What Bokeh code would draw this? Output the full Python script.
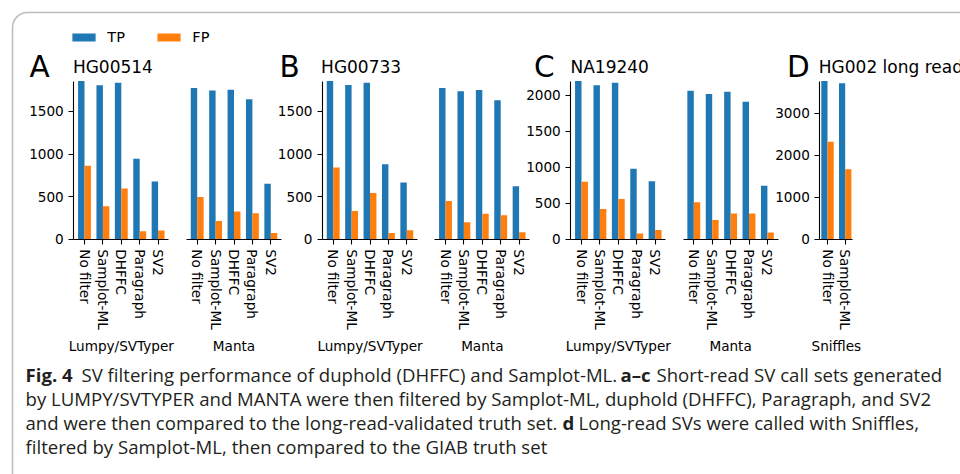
from bokeh.plotting import figure
from bokeh.models import (Range1d, LinearAxis, FixedTicker, ColumnDataSource,
                          BoxAnnotation, Legend, LegendItem)
from bokeh.core.properties import value
from bokeh.transform import dodge
from bokeh.embed import file_html
from bokeh.resources import INLINE

# ---------------- data ----------------
filters = ["No filter", "Samplot-ML", "DHFFC", "Paragraph", "SV2"]
sniffles_filters = ["No filter", "Samplot-ML"]
callers = ["Lumpy/SVTyper", "Manta", "Sniffles"]
series_names = ["TP", "FP"]
panel_letters = ["A", "B", "C", "D"]
panel_titles = ["HG00514", "HG00733", "NA19240", "HG002 long reads"]

a_lumpy_tp = [1856, 1805, 1836, 944, 677]
a_lumpy_fp = [861, 388, 595, 94, 102]
a_manta_tp = [1774, 1746, 1754, 1641, 650]
a_manta_fp = [497, 215, 325, 305, 74]

b_lumpy_tp = [1856, 1809, 1836, 881, 666]
b_lumpy_fp = [842, 333, 544, 74, 106]
b_manta_tp = [1774, 1735, 1750, 1629, 623]
b_manta_fp = [450, 200, 301, 282, 82]

c_lumpy_tp = [2197, 2137, 2174, 978, 807]
c_lumpy_fp = [797, 422, 561, 79, 130]
c_manta_tp = [2063, 2017, 2049, 1910, 742]
c_manta_fp = [515, 269, 357, 357, 93]

d_sniffles_tp = [3762, 3706]
d_sniffles_fp = [2317, 1667]

ticks_ab = [0, 500, 1000, 1500]
ticks_c = [0, 500, 1000, 1500, 2000]
ticks_d = [0, 1000, 2000, 3000]

caption_lines = [
    [("Fig. 4", True), ("SV filtering performance of duphold (DHFFC) and Samplot-ML.", False),
     ("a–c", True), ("Short-read SV call sets generated", False)],
    [("by LUMPY/SVTYPER and MANTA were then filtered by Samplot-ML, duphold (DHFFC), Paragraph, and SV2", False)],
    [("and were then compared to the long-read-validated truth set.", False), ("d", True),
     ("Long-read SVs were called with Sniffles,", False)],
    [("filtered by Samplot-ML, then compared to the GIAB truth set", False)],
]

# ---------------- layout / style ----------------
TP_COLOR = "#1f77b4"
FP_COLOR = "#ff7f0e"
W, H = 960, 474
Y0, YTOP = 238.8, 80.5          # pixel rows of value 0 and of panel maximum
BAR_W = 0.35
FONT = "DejaVu Sans"
TICK_FS = "13.6px"


def py(Y):
    return H - Y


p = figure(width=W, height=H, output_backend="svg", toolbar_location=None,
           x_axis_type=None, y_axis_type=None,
           x_range=Range1d(0, W), y_range=Range1d(0, H),
           min_border=0, outline_line_color=None)
p.background_fill_color = "white"
p.border_fill_color = "white"


def xr(p0, s):
    return Range1d((0 - p0) / s, (W - p0) / s)


def yr(ymax):
    k = (Y0 - YTOP) / ymax
    return Range1d((Y0 - H) / k, Y0 / k)


panels = [
    dict(key="A", ticks=ticks_ab, letter_x=29.0, title_x=72.4,
         groups=[("A_L", callers[0], filters, a_lumpy_tp, a_lumpy_fp, 84.0, 18.4),
                 ("A_M", callers[1], filters, a_manta_tp, a_manta_fp, 196.7, 18.4)]),
    dict(key="B", ticks=ticks_ab, letter_x=279.0, title_x=320.6,
         groups=[("B_L", callers[0], filters, b_lumpy_tp, b_lumpy_fp, 332.7, 18.4),
                 ("B_M", callers[1], filters, b_manta_tp, b_manta_fp, 445.0, 18.4)]),
    dict(key="C", ticks=ticks_c, letter_x=533.4, title_x=570.0,
         groups=[("C_L", callers[0], filters, c_lumpy_tp, c_lumpy_fp, 581.0, 18.4),
                 ("C_M", callers[1], filters, c_manta_tp, c_manta_fp, 693.3, 18.4)]),
    dict(key="D", ticks=ticks_d, letter_x=786.5, title_x=818.3,
         groups=[("D_S", callers[2], sniffles_filters, d_sniffles_tp, d_sniffles_fp, 827.0, 17.7)]),
]


def style_axis(ax):
    ax.axis_line_color = "black"
    ax.axis_line_width = 1.1
    ax.major_tick_line_color = "black"
    ax.major_tick_line_width = 1.1
    ax.major_tick_out = 5
    ax.major_tick_in = 0
    ax.minor_tick_out = 0
    ax.minor_tick_in = 0
    ax.major_label_standoff = 5
    ax.major_label_text_font = FONT
    ax.major_label_text_font_size = TICK_FS
    ax.major_label_text_color = "black"


legend_renderers = None
for pi, pan in enumerate(panels):
    pname = "y_" + pan["key"]
    ymax = max(max(g[3]) for g in pan["groups"])
    p.extra_y_ranges[pname] = yr(ymax)
    for gi, (gname, glabel, cats, tp, fp, p0, s) in enumerate(pan["groups"]):
        n = len(cats)
        margin = 0.05 * (n - 1 + 2 * BAR_W) + BAR_W
        p.extra_x_ranges[gname] = xr(p0, s)
        src = ColumnDataSource(dict(idx=list(range(n)), cat=cats, tp=tp, fp=fp))
        r_tp = p.vbar(x=dodge("idx", -BAR_W / 2), top="tp", width=BAR_W, source=src,
                      fill_color=TP_COLOR, line_color=None,
                      x_range_name=gname, y_range_name=pname)
        r_fp = p.vbar(x=dodge("idx", BAR_W / 2), top="fp", width=BAR_W, source=src,
                      fill_color=FP_COLOR, line_color=None,
                      x_range_name=gname, y_range_name=pname)
        if legend_renderers is None:
            legend_renderers = (r_tp, r_fp)

        ax = LinearAxis(x_range_name=gname, y_range_name=pname, fixed_location=0,
                        bounds=(-margin, n - 1 + margin),
                        ticker=FixedTicker(ticks=list(range(n)), minor_ticks=[]),
                        major_label_overrides={i: c for i, c in enumerate(cats)},
                        major_label_orientation="vertical")
        style_axis(ax)
        p.add_layout(ax, "below")

        if gi == 0:
            ay = LinearAxis(x_range_name=gname, y_range_name=pname, fixed_location=-margin,
                            bounds=(0, ymax),
                            ticker=FixedTicker(ticks=pan["ticks"], minor_ticks=[]))
            style_axis(ay)
            p.add_layout(ay, "left")

        p.text(x=[(n - 1) / 2], y=[py(345)], text=[glabel], x_range_name=gname,
               text_font=value(FONT), text_font_size=TICK_FS, text_color="black",
               text_align="center", text_baseline="middle")

    p.text(x=[pan["letter_x"]], y=[py(66.0)], text=[panel_letters[pi]],
           text_font=value(FONT), text_font_size="29.5px", text_color="black",
           text_align="left", text_baseline="middle")
    p.text(x=[pan["title_x"]], y=[py(66.4)], text=[panel_titles[pi]],
           text_font=value(FONT), text_font_size="17px", text_color="black",
           text_align="left", text_baseline="middle")

legend = Legend(items=[LegendItem(label=value(series_names[0]), renderers=[legend_renderers[0]]),
                       LegendItem(label=value(series_names[1]), renderers=[legend_renderers[1]])],
                orientation="horizontal", location=(69.3, H - 45.3),
                glyph_width=29, glyph_height=10, label_height=10, label_width=20,
                label_standoff=9, spacing=27, padding=0, margin=0,
                border_line_color=None, background_fill_alpha=0,
                label_text_font=FONT, label_text_font_size="14.5px",
                label_text_color="black")
p.add_layout(legend)

# caption
CAP_FONT = "Open Sans"
CAP_FS = "18.6px"
cap_x = [[25, 81, 620, 656], [25], [25, 562, 578], [25]]
for li, line in enumerate(caption_lines):
    for si, (txt, bold) in enumerate(line):
        p.text(x=[cap_x[li][si]], y=[py(373.8 + 23.9 * li)], text=[txt],
               text_font=value(CAP_FONT), text_font_size=CAP_FS,
               text_font_style="bold" if bold else "normal",
               text_color="#231f20", text_align="left", text_baseline="middle")

box = BoxAnnotation(left=12, right=1000, top=py(12), bottom=py(560),
                    fill_color=None, line_color="#231f20", line_width=1.5,
                    border_radius=15)
p.add_layout(box)

open("out.html", "w").write(file_html(p, INLINE))
